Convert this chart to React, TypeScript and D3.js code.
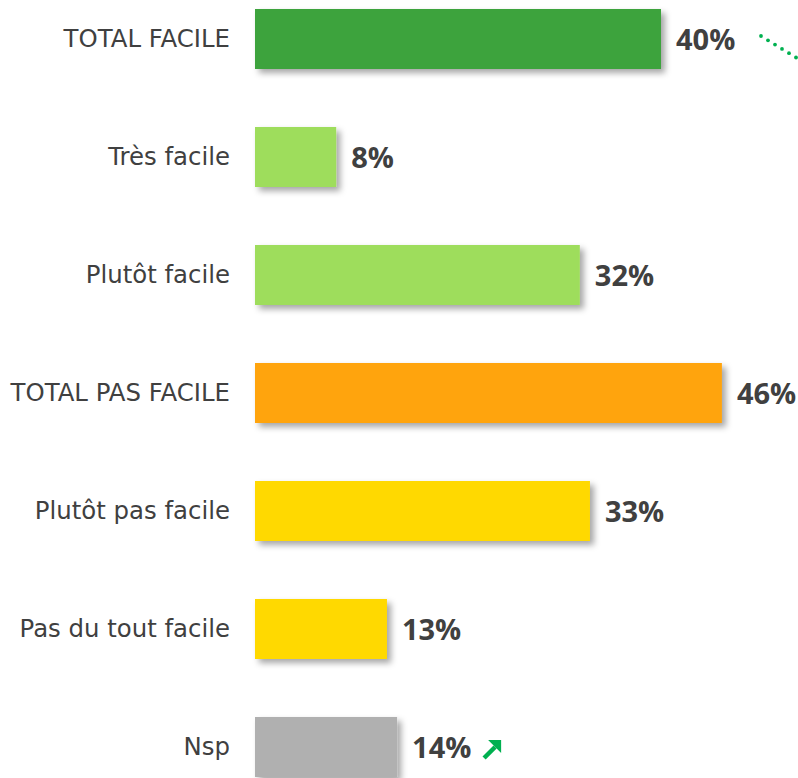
import React from "react";
import * as d3 from "d3";

const categories = [
  "TOTAL FACILE",
  "Très facile",
  "Plutôt facile",
  "TOTAL PAS FACILE",
  "Plutôt pas facile",
  "Pas du tout facile",
  "Nsp",
];
const values = [40, 8, 32, 46, 33, 13, 14];
const valueLabels = ["40%", "8%", "32%", "46%", "33%", "13%", "14%"];
const colors = ["#3CA33C", "#9EDD5B", "#9EDD5B", "#FFA40A", "#FFD902", "#FFD902", "#B0B0B0"];

const W = 798;
const H = 778;

export default function App() {
  const x = d3.scaleLinear().domain([0, 10]).range([255, 356.5]);
  const y = d3
    .scaleBand<string>()
    .domain(categories)
    .range([-20, 806])
    .paddingInner(58 / 118)
    .paddingOuter(29 / 118);
  const bw = y.bandwidth();
  const arrowRow = 6;
  const ay = (y(categories[arrowRow]) as number) + bw / 2;
  const ax = x(values[arrowRow]) + 95;

  const dots = d3.range(0, 7).map((i) => ({ cx: 761 + i * 7, cy: 36 + i * 4.3 }));

  return (
    <svg
      width={W}
      height={H}
      style={{ position: "absolute", left: 0, top: 0, background: "#fff" }}
    >
      <defs>
        <filter id="sh" x="-10%" y="-20%" width="130%" height="160%">
          <feDropShadow dx="4" dy="4" stdDeviation="3" floodColor="#000" floodOpacity="0.35" />
        </filter>
      </defs>
      {categories.map((c, i) => {
        const yy = y(c) as number;
        const cy = yy + bw / 2;
        return (
          <g key={c}>
            <rect
              x={x(0)}
              y={yy}
              width={x(values[i]) - x(0)}
              height={bw}
              fill={colors[i]}
              filter="url(#sh)"
            />
            <text
              x={230}
              y={cy - 1}
              dy="0.35em"
              textAnchor="end"
              fontFamily="DejaVu Sans, sans-serif"
              fontSize={24.4}
              fill="#404040"
            >
              {c}
            </text>
            <text
              x={x(values[i]) + 15}
              y={cy + 1}
              dy="0.36em"
              fontFamily="Open Sans, sans-serif"
              fontWeight={700}
              fontSize={29}
              fill="#404040"
            >
              {valueLabels[i]}
            </text>
          </g>
        );
      })}
      {dots.map((d, i) => (
        <circle key={i} cx={d.cx} cy={d.cy} r={1.9} fill="#00B050" />
      ))}
      <g transform={`translate(${ax},${ay + 2})`} fill="#00B050">
        <path d="M -8 9 L 3 -2" stroke="#00B050" strokeWidth={4.5} />
        <polygon points="-4,-9 9,-9 9,4" />
      </g>
    </svg>
  );
}
